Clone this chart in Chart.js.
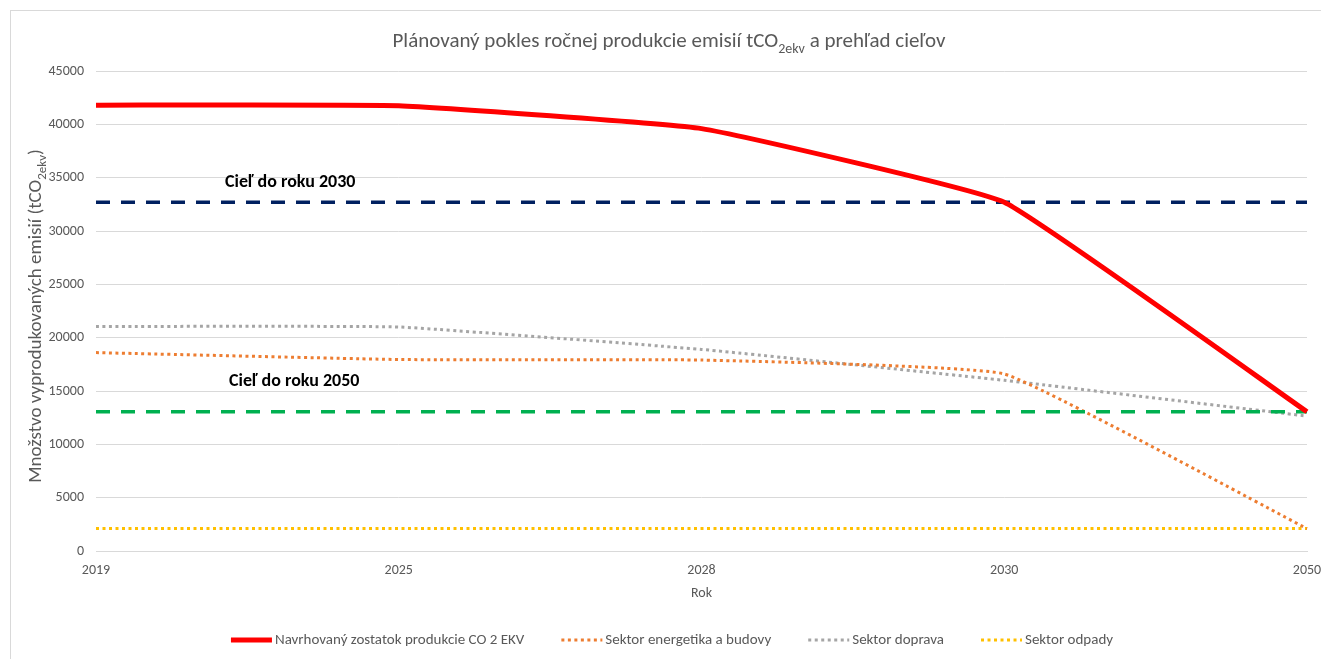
<!DOCTYPE html>
<html>
<head>
<meta charset="utf-8">
<script src="https://cdn.jsdelivr.net/npm/chart.js@4.4.1/dist/chart.umd.min.js"></script>
<style>
  html, body { margin: 0; padding: 0; background: #ffffff; }
  canvas { display: block; }
</style>
</head>
<body>
<canvas id="emisie" width="1321" height="659"></canvas>
<script>
// Roky (kategórie osi X)
const years = ['2019', '2025', '2028', '2030', '2050'];

// Ročná produkcia emisií v tCO2ekv
const proposedRemainder = [41800, 41750, 39600, 32700, 13050];
const energyBuildings   = [18600, 17950, 17900, 16600, 2100];
const transport         = [21050, 21000, 18900, 16000, 12650];
const waste             = [2100, 2100, 2100, 2100, 2100];

// Ciele
const target2030 = [32700, 32700, 32700, 32700, 32700];
const target2050 = [13050, 13050, 13050, 13050, 13050];

// Os Y
const yMin = 0, yMax = 45000, yStep = 5000;

// Texty
const seriesNames = [
  'Navrhovaný zostatok produkcie CO 2 EKV',
  'Sektor energetika a budovy',
  'Sektor doprava',
  'Sektor odpady'
];
const targetLabels = ['Cieľ do roku 2030', 'Cieľ do roku 2050'];
const titleParts = ['Plánovaný pokles ročnej produkcie emisií tCO', '2ekv', ' a prehľad cieľov'];
const yTitleParts = ['Množstvo vyprodukovaných emisií (tCO', '2ekv', ')'];
const xTitle = 'Rok';

const FONT = "Carlito, Lato, 'Open Sans', sans-serif";
const GREY_TEXT = '#595959';
const GRID = '#d9d9d9';

// Rámik grafu, nadpis s dolným indexom, popis osi Y, popisy cieľov a legenda
const decorations = {
  id: 'decorations',
  beforeDraw(chart) {
    const ctx = chart.ctx;
    ctx.save();
    ctx.fillStyle = '#ffffff';
    ctx.fillRect(0, 0, chart.width, chart.height);
    ctx.strokeStyle = GRID;
    ctx.lineWidth = 1;
    ctx.strokeRect(10.5, 10.5, chart.width + 20, chart.height + 20);
    ctx.restore();
  },
  afterDraw(chart) {
    const ctx = chart.ctx;
    const area = chart.chartArea;
    const yScale = chart.scales.y;

    // text s dolným indexom, centrovaný na počiatok
    function subText(parts, size, subSize) {
      ctx.font = size + 'px ' + FONT;
      const w0 = ctx.measureText(parts[0]).width;
      const w2 = ctx.measureText(parts[2]).width;
      ctx.font = subSize + 'px ' + FONT;
      const w1 = ctx.measureText(parts[1]).width;
      const total = w0 + w1 + w2;
      let x = -total / 2;
      ctx.textBaseline = 'alphabetic';
      ctx.textAlign = 'left';
      ctx.font = size + 'px ' + FONT;
      ctx.fillText(parts[0], x, 0);
      x += w0;
      ctx.font = subSize + 'px ' + FONT;
      ctx.fillText(parts[1], x, size * 0.28);
      x += w1;
      ctx.font = size + 'px ' + FONT;
      ctx.fillText(parts[2], x, 0);
      return total;
    }

    ctx.save();
    ctx.fillStyle = GREY_TEXT;
    // nadpis
    ctx.save();
    ctx.translate(669, 47);
    subText(titleParts, 21, 14);
    ctx.restore();

    // popis osi Y
    ctx.save();
    ctx.translate(41, (area.top + area.bottom) / 2 + 5);
    ctx.rotate(-Math.PI / 2);
    subText(yTitleParts, 19, 13);
    ctx.restore();

    // popisy cieľov
    ctx.fillStyle = '#000000';
    ctx.font = 'bold 18px ' + FONT;
    ctx.textAlign = 'left';
    ctx.textBaseline = 'middle';
    ctx.fillText(targetLabels[0], 225, yScale.getPixelForValue(target2030[0]) - 20);
    ctx.fillText(targetLabels[1], 229, yScale.getPixelForValue(target2050[0]) - 30);

    // legenda
    const items = chart.data.datasets.filter(d => d.inLegend);
    const sample = 41, gapText = 3, gapItem = 37, legendY = 640;
    ctx.font = '15px ' + FONT;
    const widths = items.map(d => sample + gapText + ctx.measureText(d.label).width);
    const total = widths.reduce((a, b) => a + b, 0) + gapItem * (items.length - 1);
    let x = 672 - total / 2;
    items.forEach((d, i) => {
      ctx.save();
      ctx.strokeStyle = d.borderColor;
      ctx.lineWidth = d.borderWidth;
      ctx.lineCap = d.borderCapStyle || 'butt';
      ctx.setLineDash(d.borderDash || []);
      ctx.beginPath();
      ctx.moveTo(x, legendY);
      ctx.lineTo(x + sample, legendY);
      ctx.stroke();
      ctx.restore();
      ctx.fillStyle = GREY_TEXT;
      ctx.textAlign = 'left';
      ctx.textBaseline = 'middle';
      ctx.fillText(d.label, x + sample + gapText, legendY);
      x += widths[i] + gapItem;
    });
    ctx.restore();
  }
};

const dotted = [3, 3.5];
const dashed = [14, 11];
const bend = 0.1;

new Chart(document.getElementById('emisie'), {
  type: 'line',
  data: {
    labels: years,
    datasets: [
      { label: seriesNames[0], data: proposedRemainder, borderColor: '#ff0000', borderWidth: 5,
        tension: bend, pointRadius: 0, order: 0, inLegend: true },
      { label: seriesNames[1], data: energyBuildings, borderColor: '#ed7d31', borderWidth: 3,
        borderDash: dotted, tension: bend, pointRadius: 0, order: 3, inLegend: true },
      { label: seriesNames[2], data: transport, borderColor: '#a5a5a5', borderWidth: 3,
        borderDash: dotted, tension: bend, pointRadius: 0, order: 4, inLegend: true },
      { label: seriesNames[3], data: waste, borderColor: '#ffc000', borderWidth: 3,
        borderDash: dotted, tension: 0, pointRadius: 0, order: 5, inLegend: true },
      { label: targetLabels[0], data: target2030, borderColor: '#002060', borderWidth: 3.5,
        borderDash: dashed, tension: 0, pointRadius: 0, order: 1, inLegend: false },
      { label: targetLabels[1], data: target2050, borderColor: '#00b050', borderWidth: 3.5,
        borderDash: dashed, tension: 0, pointRadius: 0, order: 2, inLegend: false }
    ]
  },
  options: {
    responsive: false,
    devicePixelRatio: 1,
    animation: false,
    events: [],
    layout: { padding: { top: 71, right: 14, bottom: 40, left: 0 } },
    plugins: {
      legend: { display: false },
      title: { display: false },
      tooltip: { enabled: false }
    },
    scales: {
      x: {
        grid: { display: false, drawTicks: false },
        border: { display: true, color: GRID, width: 1 },
        ticks: { color: GREY_TEXT, font: { family: FONT, size: 14 }, padding: 11,
                 autoSkip: false, maxRotation: 0 },
        title: { display: true, text: xTitle, color: GREY_TEXT, font: { family: FONT, size: 14 },
                 padding: { top: 0, bottom: 17 } },
        afterFit(scale) {
          scale.height = 68;
          scale.paddingLeft = 0;
          scale.paddingRight = 0;
        }
      },
      y: {
        min: yMin,
        max: yMax,
        grid: { color: GRID, lineWidth: 1, drawTicks: false },
        border: { display: false },
        ticks: { stepSize: yStep, color: GREY_TEXT, font: { family: FONT, size: 14 }, padding: 12,
                 callback: v => String(v) },
        afterFit(scale) { scale.width = 96; }
      }
    }
  },
  plugins: [decorations]
});
</script>
</body>
</html>
